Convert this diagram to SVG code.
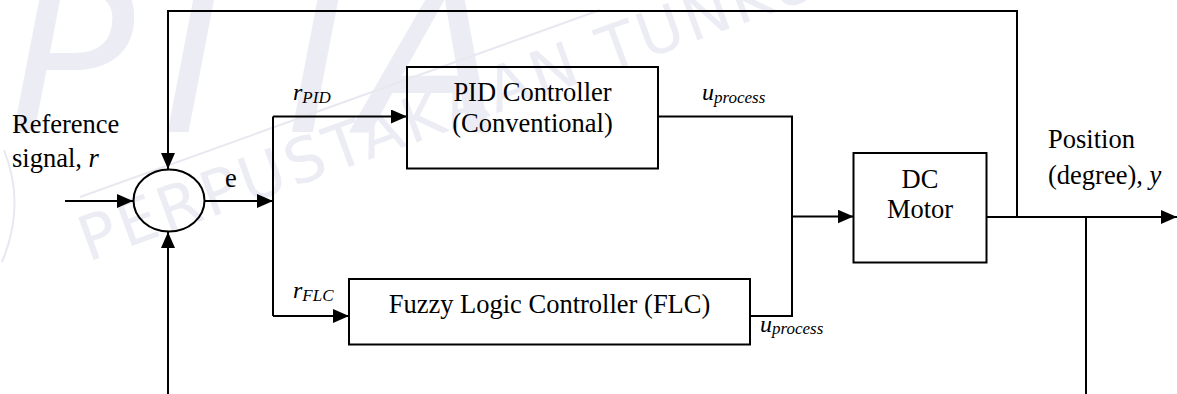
<svg xmlns="http://www.w3.org/2000/svg" width="1177" height="394" viewBox="0 0 1177 394">
  <defs>
    <style>
      .wm { fill: #ececf4; }
      .wmline { fill: none; stroke: #e8e8f1; stroke-width: 2; }
      .box { fill: none; stroke: #000; stroke-width: 2; }
      .wire { fill: none; stroke: #000; stroke-width: 2; }
      .lbl { font-size: 26.5px; fill: #000; }
      .var { font-style: italic; fill: #000; }
      .mid { text-anchor: middle; }
    </style>
    <marker id="arrow" markerUnits="userSpaceOnUse" markerWidth="16" markerHeight="14" refX="16" refY="7" orient="auto">
      <path d="M0,0 L16,7 L0,14 z" fill="#000"/>
    </marker>
  </defs>

  <rect width="1177" height="394" fill="#fff"/>

  <!-- library watermark in the background -->
  <g id="watermark" font-family="DejaVu Sans, sans-serif">
    <path class="wmline" d="M4,150 Q26,205 2,262" stroke-width="3"/>
    <text class="wm" x="8" y="132" font-size="210" font-style="italic" letter-spacing="-4">PTTA</text>
    <line class="wmline" x1="80" y1="197" x2="600" y2="10"/>
    <text class="wm" x="88" y="262" font-size="62" textLength="780" lengthAdjust="spacing" transform="rotate(-20 88 262)">PERPUSTAKAAN TUNKU</text>
  </g>

  <!-- signal lines -->
  <g id="connectors">
    <path class="wire" d="M65,201 H133" marker-end="url(#arrow)"/>
    <path class="wire" d="M1017,217 V11 H168 V169" marker-end="url(#arrow)"/>
    <path class="wire" d="M1086,217 V394"/>
    <path class="wire" d="M168,394 V232" marker-end="url(#arrow)"/>
    <path class="wire" d="M204,201 H273" marker-end="url(#arrow)"/>
    <path class="wire" d="M273,116.5 V316"/>
    <path class="wire" d="M273,116.5 H407" marker-end="url(#arrow)"/>
    <path class="wire" d="M273,316 H349" marker-end="url(#arrow)"/>
    <path class="wire" d="M658,116.5 H792 V316 H750"/>
    <path class="wire" d="M792,216.5 H853.5" marker-end="url(#arrow)"/>
    <path class="wire" d="M987,217 H1177" marker-end="url(#arrow)"/>
  </g>

  <!-- summing junction -->
  <g id="sum">
    <ellipse class="box" cx="169" cy="200.5" rx="35.5" ry="31"/>
  </g>

  <g id="pid" font-family="'Times New Roman', 'Liberation Serif', serif">
    <rect class="box" x="407" y="67" width="251" height="101.5"/>
    <text class="lbl mid" x="532.5" y="101">PID Controller</text>
    <text class="lbl mid" x="532.5" y="131.5">(Conventional)</text>
  </g>

  <g id="flc" font-family="'Times New Roman', 'Liberation Serif', serif">
    <rect class="box" x="349" y="279" width="401" height="65.5"/>
    <text class="lbl mid" x="549.5" y="313">Fuzzy Logic Controller (FLC)</text>
  </g>

  <g id="motor" font-family="'Times New Roman', 'Liberation Serif', serif">
    <rect class="box" x="853.5" y="153" width="133" height="109.5"/>
    <text class="lbl mid" x="920" y="188">DC</text>
    <text class="lbl mid" x="920" y="218">Motor</text>
  </g>

  <!-- signal labels -->
  <g id="labels" font-family="'Times New Roman', 'Liberation Serif', serif">
    <text class="lbl" x="12" y="133">Reference</text>
    <text class="lbl" x="12" y="167">signal, <tspan font-style="italic">r</tspan></text>
    <text class="lbl" x="225" y="187">e</text>
    <text class="var" x="293" y="100" font-size="24">r<tspan font-size="17" dy="3">PID</tspan></text>
    <text class="var" x="293" y="298" font-size="24">r<tspan font-size="17" dy="3">FLC</tspan></text>
    <text class="var" x="702" y="100" font-size="24">u<tspan font-size="17" dy="2.5">process</tspan></text>
    <text class="var" x="760" y="331.5" font-size="24">u<tspan font-size="17" dy="2">process</tspan></text>
    <text class="lbl" x="1048" y="148">Position</text>
    <text class="lbl" x="1048" y="184">(degree), <tspan font-style="italic">y</tspan></text>
  </g>
</svg>
